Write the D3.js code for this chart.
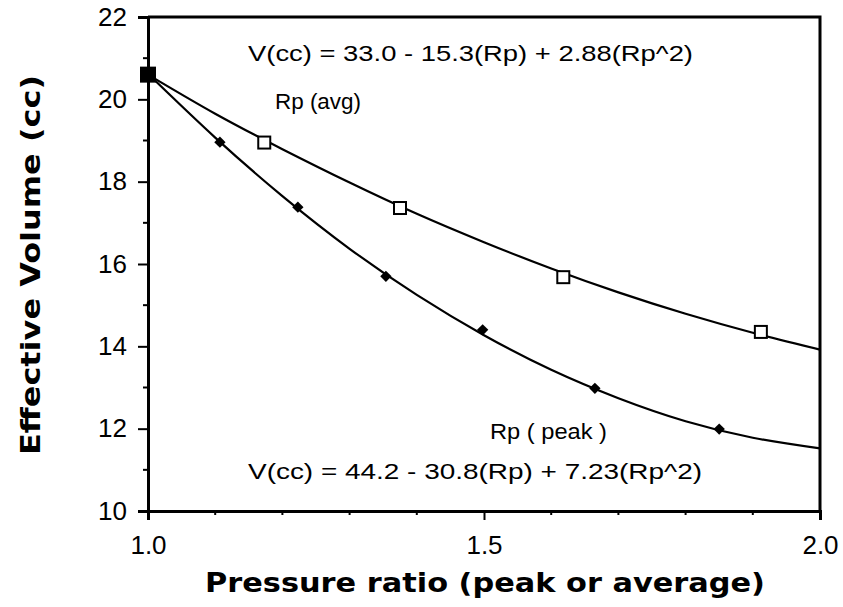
<!DOCTYPE html>
<html><head><meta charset="utf-8">
<script src="https://cdn.jsdelivr.net/npm/d3@7"></script>
<style>body{margin:0;background:#fff}svg{display:block}</style>
</head><body>
<script>
// ---- data ----
const avgRp   = [1.0, 1.173, 1.375, 1.618, 1.912];
const avgV    = [20.6, 18.95, 17.36, 15.68, 14.35];
const peakRp  = [1.107, 1.223, 1.354, 1.498, 1.665, 1.850];
const peakV   = [18.96, 17.38, 15.70, 14.40, 12.98, 11.99];
const fitRp   = [1.0, 1.1, 1.2, 1.3, 1.4, 1.5, 1.6, 1.7, 1.8, 1.9, 2.0];
const avgFitV = [20.60, 19.65, 18.79, 17.98, 17.22, 16.53, 15.89, 15.31, 14.79, 14.33, 13.92];
const peakFitV= [20.62, 19.07, 17.65, 16.37, 15.25, 14.27, 13.43, 12.74, 12.18, 11.78, 11.52];
const xTickLabels = ["1.0", "1.5", "2.0"];
const xTickValues = [1.0, 1.5, 2.0];
const xMinorTicks = [1.1, 1.2, 1.3, 1.4, 1.6, 1.7, 1.8, 1.9];
const yTickValues = [10, 12, 14, 16, 18, 20, 22];
const yMinorTicks = [11, 13, 15, 17, 19, 21];
const avgEq  = "V(cc) = 33.0 - 15.3(Rp) + 2.88(Rp^2)";
const peakEq = "V(cc) = 44.2 - 30.8(Rp) + 7.23(Rp^2)";
const avgLabel = "Rp (avg)";
const peakLabel = "Rp ( peak )";
const xTitle = "Pressure ratio (peak or average)";
const yTitle = "Effective Volume (cc)";

const W = 843, H = 607;
const svg = d3.select("body").append("svg").attr("width", W).attr("height", H);
const x = d3.scaleLinear().domain([1.0, 2.0]).range([148, 820]);
const y = d3.scaleLinear().domain([10, 22]).range([511, 17]);
const tickFont = "'Liberation Sans', Arial, sans-serif";

// frame top/right
svg.append("path")
  .attr("d", `M${x(1.0)},${y(22)}H${x(2.0)}V${y(10)}`)
  .attr("fill", "none").attr("stroke", "#000").attr("stroke-width", 3);

// y axis
const yAxis = d3.axisLeft(y).tickValues(yTickValues).tickSize(10).tickPadding(11)
  .tickFormat(d3.format("d"));
const gy = svg.append("g").attr("transform", `translate(${x(1.0)},0)`).call(yAxis);
gy.select(".domain").attr("stroke-width", 3);
gy.selectAll(".tick line").attr("stroke-width", 2);
gy.selectAll("text").attr("font-family", tickFont).attr("font-size", 26).attr("fill", "#000");
gy.selectAll(".minor").data(yMinorTicks).enter().append("line")
  .attr("x1", 0).attr("x2", -5).attr("y1", d => y(d)).attr("y2", d => y(d))
  .attr("stroke", "#000").attr("stroke-width", 2);

// x axis
const xAxis = d3.axisBottom(x).tickValues(xTickValues).tickSize(9).tickPadding(16)
  .tickFormat((d, i) => xTickLabels[i]);
const gx = svg.append("g").attr("transform", `translate(0,${y(10)})`).call(xAxis);
gx.select(".domain").attr("stroke-width", 3);
gx.selectAll(".tick line").attr("stroke-width", 2);
gx.selectAll("text").attr("font-family", tickFont).attr("font-size", 26).attr("fill", "#000");
gx.selectAll(".minor").data(xMinorTicks).enter().append("line")
  .attr("x1", d => x(d)).attr("x2", d => x(d)).attr("y1", 0).attr("y2", 4)
  .attr("stroke", "#000").attr("stroke-width", 2);

// fit curves
const line = (vals) => d3.line().x((d, i) => x(fitRp[i])).y(d => y(d)).curve(d3.curveNatural)(vals);
svg.append("path").attr("d", line(avgFitV)).attr("fill", "none").attr("stroke", "#000").attr("stroke-width", 2.2);
svg.append("path").attr("d", line(peakFitV)).attr("fill", "none").attr("stroke", "#000").attr("stroke-width", 2.2);

// peak markers (filled diamonds)
svg.selectAll(".pk").data(peakRp).enter().append("rect")
  .attr("x", -4).attr("y", -4).attr("width", 8).attr("height", 8)
  .attr("transform", (d, i) => `translate(${x(d)},${y(peakV[i])}) rotate(45)`)
  .attr("fill", "#000");

// avg markers (open squares, first filled)
svg.selectAll(".av").data(avgRp).enter().append("rect")
  .attr("x", d => x(d) - (d === 1.0 ? 7 : 6))
  .attr("y", (d, i) => y(avgV[i]) - (d === 1.0 ? 7 : 6))
  .attr("width", d => d === 1.0 ? 14 : 12)
  .attr("height", d => d === 1.0 ? 14 : 12)
  .attr("fill", d => d === 1.0 ? "#000" : "#fff")
  .attr("stroke", "#000").attr("stroke-width", 2);

// annotations
const ann = (t, px, py, len) => svg.append("text").text(t)
  .attr("x", px).attr("y", py).attr("font-family", tickFont).attr("font-size", 22)
  .attr("textLength", len).attr("lengthAdjust", "spacingAndGlyphs").attr("fill", "#000");
ann(avgEq, 248, 61, 445);
ann(avgLabel, 275, 109, 86);
ann(peakLabel, 490, 439, 117);
ann(peakEq, 248, 479, 454);

// titles
svg.append("text").text(xTitle)
  .attr("x", 485).attr("y", 592).attr("text-anchor", "middle")
  .attr("font-family", "'DejaVu Sans', sans-serif").attr("font-weight", "bold").attr("font-size", 26)
  .attr("textLength", 560).attr("lengthAdjust", "spacingAndGlyphs");
svg.append("text").text(yTitle)
  .attr("transform", "translate(40,265) rotate(-90)").attr("text-anchor", "middle")
  .attr("font-family", "'DejaVu Sans', sans-serif").attr("font-weight", "bold").attr("font-size", 26)
  .attr("textLength", 380).attr("lengthAdjust", "spacingAndGlyphs");
</script>
</body></html>
